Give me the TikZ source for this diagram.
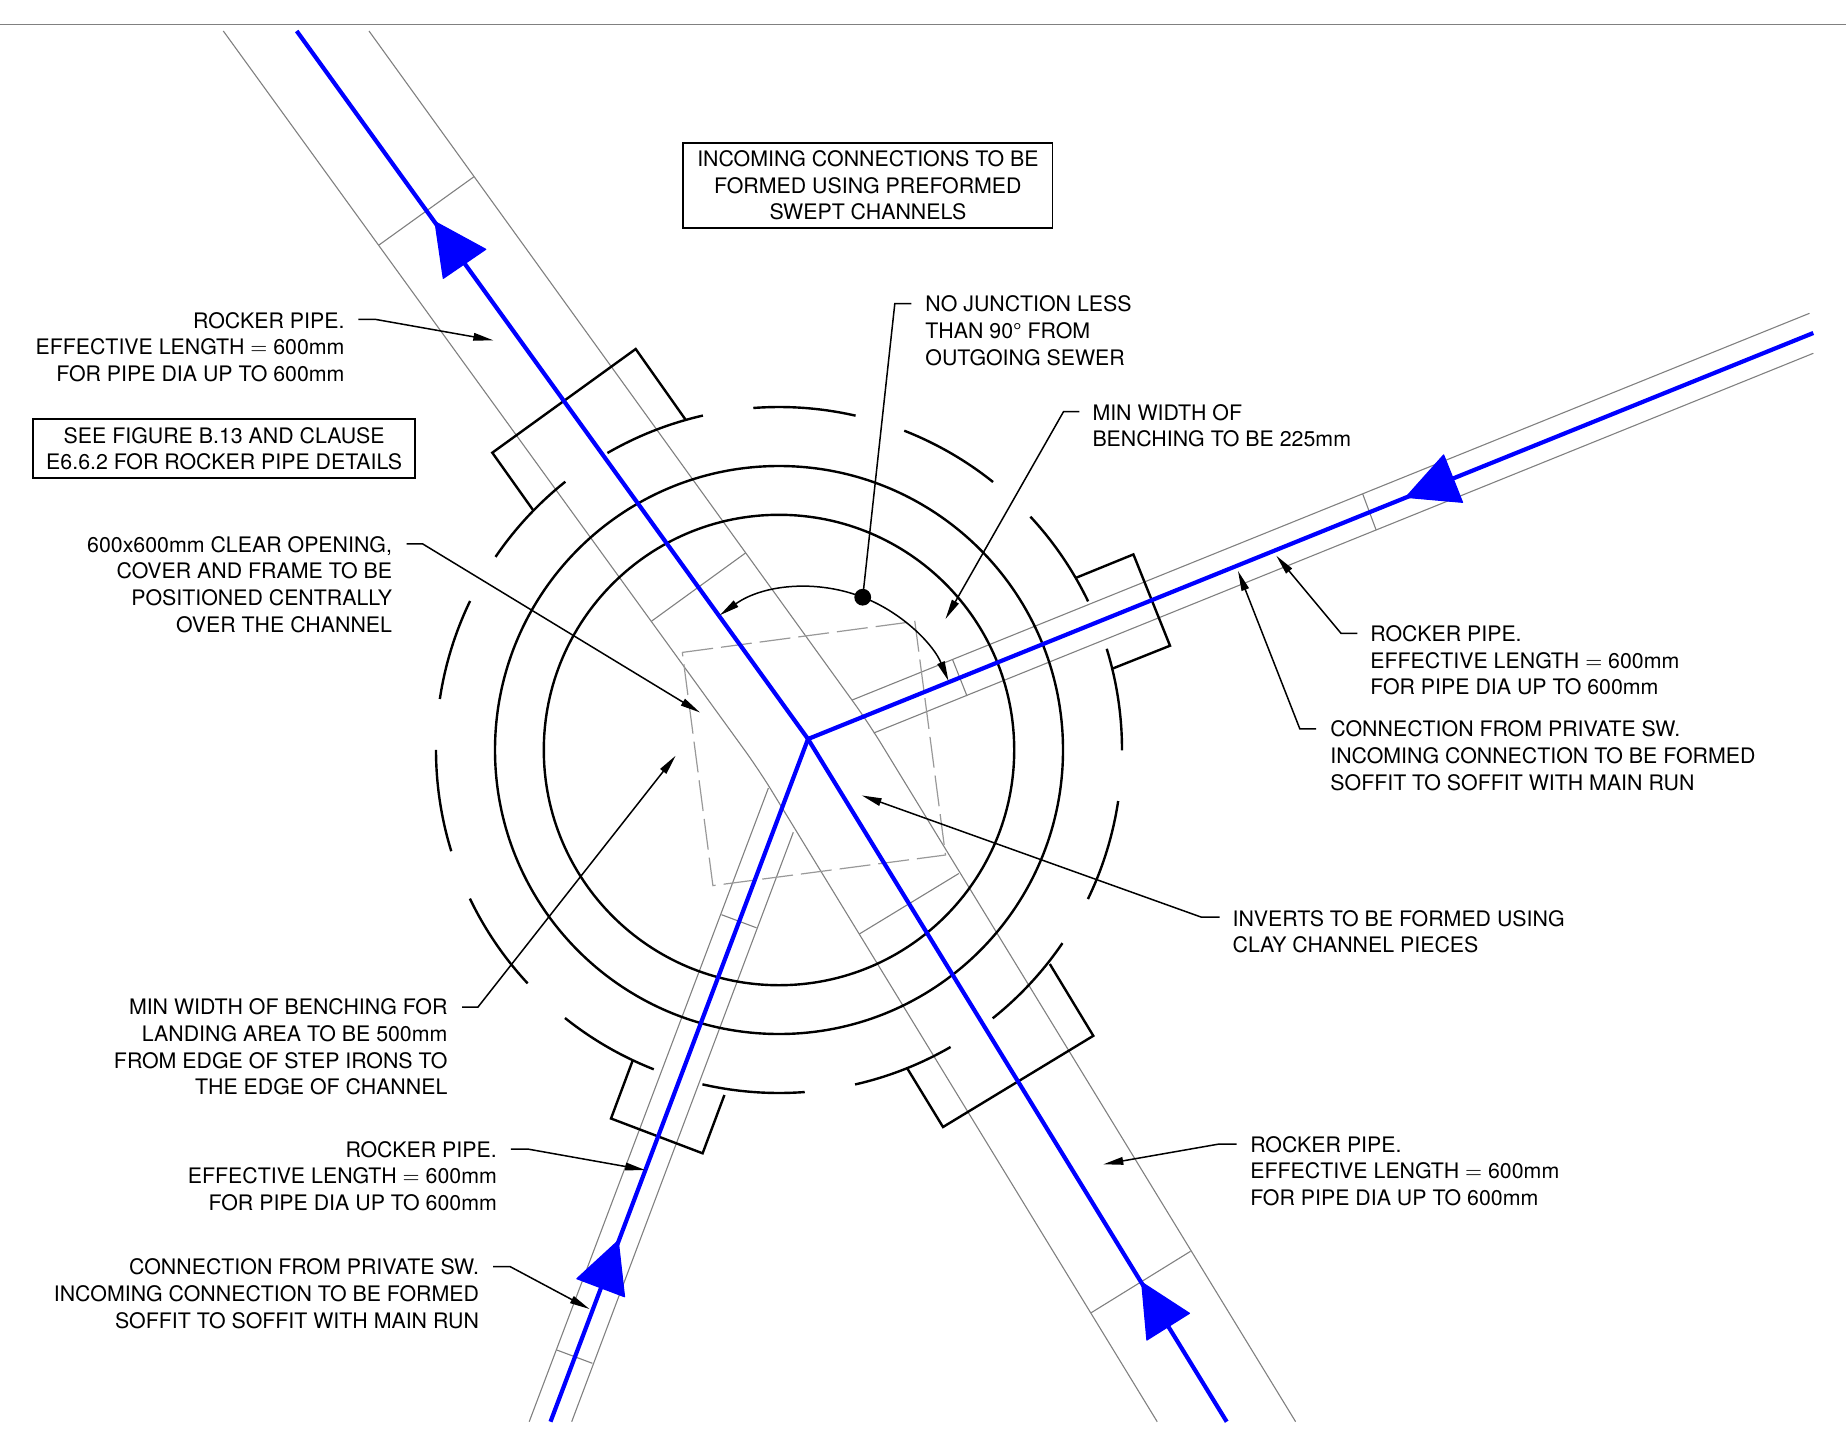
\documentclass[tikz,border=0pt]{standalone}
\usepackage{fontspec}
\setmainfont{TeX Gyre Heros}
\usetikzlibrary{arrows.meta}
\definecolor{pipegrey}{gray}{0.5}
\definecolor{dashgrey}{gray}{0.6}
\definecolor{flowblue}{rgb}{0,0,1}
\tikzset{
  labeltext/.style={inner sep=0pt,outer sep=0pt,font=\fontsize{10.67pt}{13.3pt}\selectfont},
  rtext/.style={labeltext,align=right,anchor=north east},
  ltext/.style={labeltext,align=left,anchor=north west},
  notebox/.style={labeltext,align=center,draw=black,line width=0.9pt,inner sep=0pt},
  pipe/.style={draw=pipegrey,line width=0.55pt},
  bendpipe/.style={pipe,rounded corners=12pt},
  cover/.style={draw=dashgrey,line width=0.6pt,dash pattern=on 15.5pt off 4pt},
  wall/.style={draw=black,line width=1.2pt},
  rocker/.style={draw=black,line width=1.2pt,line join=miter},
  flow/.style={draw=flowblue,line width=2.1pt},
  flowhead/.style={fill=flowblue,draw=flowblue,line width=0.6pt,line join=round},
  leader/.style={draw=black,line width=0.75pt,-{Stealth[length=10pt,width=3.8pt,inset=0pt]}},
  archead/.style={draw=black,line width=0.75pt,{Stealth[length=10pt,width=3.8pt,inset=0pt]}-{Stealth[length=10pt,width=3.8pt,inset=0pt]}}
}
\begin{document}
\begin{tikzpicture}[x=0.5pt,y=0.5pt]
\useasboundingbox (0,0) rectangle (1846,-1439);
% key points
\coordinate (C) at (779,-750);
\coordinate (J) at (808,-739);
\coordinate (nwEnd) at (296.7,-31);
\coordinate (neEnd) at (1813.3,-333);
\coordinate (swEnd) at (550.5,-1421.7);
\coordinate (seEnd) at (1226.7,-1421.7);
% top rule
\coordinate (ruleL) at (0,-24.7);
\coordinate (ruleR) at (1846,-24.7);
\draw[draw=pipegrey,line width=0.7pt] (ruleL) -- (ruleR);
% main channel walls
\draw[bendpipe] (223.3,-31) -- (759,-770) -- (1157.2,-1421.7);
\draw[bendpipe] (369,-31) -- (868.5,-723) -- (1295.6,-1421.7);
% branch walls
\draw[pipe] (852.2,-700) -- (1809.5,-313.3);
\draw[pipe] (873.7,-733) -- (1813.3,-353.3);
\draw[pipe] (768.4,-788) -- (529.2,-1421.7);
\draw[pipe] (793.3,-832.3) -- (571.7,-1421.7);
% pipe ticks
\draw[pipe] (379,-245) -- (474,-176.7);
\draw[pipe] (651.2,-621.4) -- (745.5,-553);
\draw[pipe] (859.3,-934) -- (958.8,-873.5);
\draw[pipe] (1091.2,-1312.7) -- (1190.5,-1251.3);
\draw[pipe] (952.6,-659.7) -- (967,-696);
\draw[pipe] (1362.7,-494) -- (1376.1,-530);
\draw[pipe] (721.5,-914.7) -- (756.5,-927.8);
\draw[pipe] (556.8,-1350) -- (592.4,-1363.3);
% cover frame
\draw[cover] (682.3,-652.4) -- (914.8,-621.4) -- (945.5,-855) -- (712.9,-885.6) -- cycle;
% chamber
\draw[wall] (C) circle[radius=142pt];
\draw[wall] (C) circle[radius=117.6pt];
\foreach \k in {0,...,13}{
  \pgfmathsetmacro\sa{94.3-\k*25.714}
  \draw[wall] ([shift={(\sa:171.5pt)}]C) arc[start angle=\sa,delta angle=-17.2,radius=171.5pt];
}
% rocker pipe recesses
\draw[rocker] (533,-510) -- (492.3,-452.7) -- (635.7,-349) -- (685.3,-419.3);
\draw[rocker] (1076,-577.8) -- (1133.4,-554.4) -- (1170,-645.7) -- (1113,-668.4);
\draw[rocker] (1049.8,-964) -- (1093.3,-1035.8) -- (943,-1127) -- (907.2,-1068.3);
\draw[rocker] (632.5,-1061) -- (611,-1118.5) -- (702.6,-1153.3) -- (724.4,-1095);
% flow lines
\draw[flow] (J) -- (nwEnd);
\draw[flow] (J) -- (neEnd);
\draw[flow] (J) -- (swEnd);
\draw[flow] (J) -- (seEnd);
\fill[flowhead] (435,-221.7) -- (485.7,-249.3) -- (443.3,-278.3) -- cycle;
\fill[flowhead] (1405.8,-497.3) -- (1443.6,-455) -- (1462.5,-502.3) -- cycle;
\fill[flowhead] (618.2,-1240.7) -- (576.9,-1278.7) -- (624.5,-1296.7) -- cycle;
\fill[flowhead] (1141.7,-1282.3) -- (1189.4,-1313.3) -- (1146.9,-1340) -- cycle;
% angle arc and dot
\draw[archead] ([shift={(125.5:76pt)}]J) arc[start angle=125.5,end angle=22.4,radius=76pt];
\coordinate (dot) at (862.7,-597.2);
\fill[black] (dot) circle[radius=4.2pt];
% text
\node[notebox,minimum width=184.6pt,minimum height=42.8pt] (boxSwept) at (867.9,-185.5) {INCOMING CONNECTIONS TO BE\\FORMED USING PREFORMED\\SWEPT CHANNELS};
\node[notebox,minimum width=191pt,minimum height=29.5pt] (boxFigure) at (224.2,-448.8) {SEE FIGURE B.13 AND CLAUSE\\E6.6.2 FOR ROCKER PIPE DETAILS};
\node[rtext] (tNW) at (344.5,-312.3) {ROCKER PIPE.\\EFFECTIVE LENGTH $=$ 600mm\\FOR PIPE DIA UP TO 600mm};
\node[rtext] (tOpen) at (392,-536.3) {600x600mm CLEAR OPENING,\\COVER AND FRAME TO BE\\POSITIONED CENTRALLY\\OVER THE CHANNEL};
\node[rtext] (tLand) at (447.4,-998.9) {MIN WIDTH OF BENCHING FOR\\LANDING AREA TO BE 500mm\\FROM EDGE OF STEP IRONS TO\\THE EDGE OF CHANNEL};
\node[rtext] (tSW) at (496.8,-1141.3) {ROCKER PIPE.\\EFFECTIVE LENGTH $=$ 600mm\\FOR PIPE DIA UP TO 600mm};
\node[rtext] (tConnSW) at (479,-1259) {CONNECTION FROM PRIVATE SW.\\INCOMING CONNECTION TO BE FORMED\\SOFFIT TO SOFFIT WITH MAIN RUN};
\node[ltext] (tJunc) at (925.4,-296) {NO JUNCTION LESS\\THAN 90° FROM\\OUTGOING SEWER};
\node[ltext] (tBench) at (1092.5,-404.3) {MIN WIDTH OF\\BENCHING TO BE 225mm};
\node[ltext] (tNE) at (1370.4,-625.7) {ROCKER PIPE.\\EFFECTIVE LENGTH $=$ 600mm\\FOR PIPE DIA UP TO 600mm};
\node[ltext] (tConnNE) at (1330.4,-721) {CONNECTION FROM PRIVATE SW.\\INCOMING CONNECTION TO BE FORMED\\SOFFIT TO SOFFIT WITH MAIN RUN};
\node[ltext] (tInv) at (1232.6,-910.3) {INVERTS TO BE FORMED USING\\CLAY CHANNEL PIECES};
\node[ltext] (tSE) at (1250.3,-1136.3) {ROCKER PIPE.\\EFFECTIVE LENGTH $=$ 600mm\\FOR PIPE DIA UP TO 600mm};
% leaders
\draw[draw=black,line width=0.75pt] (911.3,-303.7) -- (894.8,-303.7) -- (dot);
\draw[leader] (1079.4,-411.5) -- (1063.6,-411.5) -- (945.5,-619);
\draw[leader] (1357.3,-633.3) -- (1341,-633.3) -- (1276.3,-555.7);
\draw[leader] (1316.2,-728.8) -- (1299.8,-728.8) -- (1238,-571);
\draw[leader] (1219.7,-917) -- (1200.9,-917) -- (861.7,-795.4);
\draw[leader] (406.7,-543.8) -- (422.5,-543.8) -- (700,-712.5);
\draw[leader] (462.2,-1007) -- (478,-1007) -- (675.6,-755.7);
\draw[leader] (358.3,-319.3) -- (375,-319.3) -- (493.3,-340.3);
\draw[leader] (510.8,-1149) -- (527.5,-1149) -- (645.2,-1170);
\draw[leader] (493,-1266.7) -- (510.3,-1266.7) -- (589.5,-1309);
\draw[leader] (1236.5,-1144) -- (1219.2,-1144) -- (1103.3,-1164.3);
\end{tikzpicture}
\end{document}
